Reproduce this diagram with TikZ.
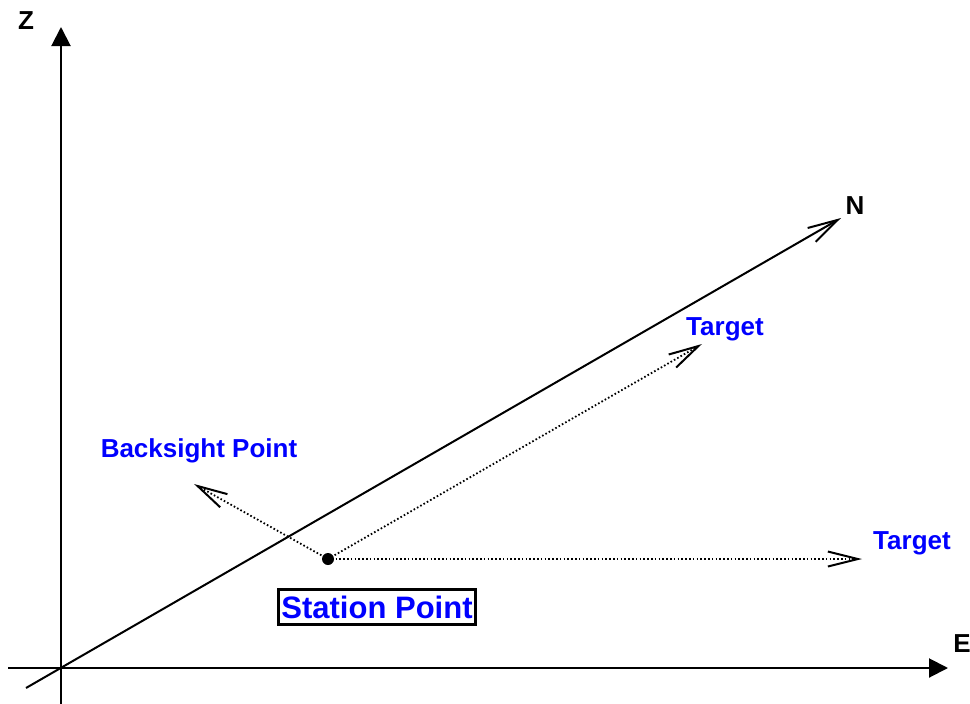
\documentclass[tikz,border=0pt]{standalone}
\usepackage{fontspec}
\setmainfont{Liberation Sans}
\usetikzlibrary{arrows.meta}
\definecolor{lblblue}{RGB}{0,0,255}
\begin{document}
\begin{tikzpicture}[x=1pt,y=-1pt,
  axis/.style={line width=2pt,-{Triangle[length=19pt,width=19pt]}},
  naxis/.style={line width=2pt,-{Straight Barb[length=30pt,width=16pt,line width=2pt]}},
  sight/.style={line width=1.8pt,dash pattern=on 1.6pt off 2.2pt,-{Straight Barb[length=30pt,width=15pt,line width=2pt,sep=0pt]}},
  axlabel/.style={font=\fontsize{26}{30}\selectfont\bfseries,text=black,inner sep=0pt},
  ptlabel/.style={font=\fontsize{26}{30}\selectfont\bfseries,text=lblblue,inner sep=0pt},
  stlabel/.style={font=\fontsize{31}{36}\selectfont\bfseries,text=lblblue,draw=black,line width=2.4pt,inner xsep=3pt,inner ysep=6pt}]
\useasboundingbox[fill=white] (0,0) rectangle (970,704);
% coordinates
\coordinate (O) at (61,668);
\coordinate (zbot) at (61,706);
\coordinate (ztip) at (61,27);
\coordinate (eleft) at (8,668);
\coordinate (etip) at (948,668);
\coordinate (nlow) at (26,688);
\coordinate (ntip) at (841,218);
\coordinate (bstip) at (194,484);
\coordinate (t1tip) at (702,344);
\coordinate (t2tip) at (862,559);
% axes
\draw[axis] (zbot) -- (ztip);
\draw[axis] (eleft) -- (etip);
\draw[naxis] (nlow) -- (ntip);
% station
\node[circle,fill=black,inner sep=0pt,minimum size=12pt] (st) at (328,559) {};
\draw[sight] (st.center) -- (bstip);
\draw[sight] (st.center) -- (t1tip);
\draw[sight] (st.center) -- (t2tip);
% labels
\node[axlabel] (zl) at (26,21) {Z};
\node[axlabel] (nl) at (855,206) {N};
\node[axlabel] (el) at (962,644) {E};
\node[ptlabel] (t1l) at (725,329) {Target};
\node[ptlabel] (bsl) at (199,451) {Backsight Point};
\node[ptlabel] (t2l) at (912,543) {Target};
\node[stlabel] (stl) at (377,607) {Station Point};
\end{tikzpicture}
\end{document}
